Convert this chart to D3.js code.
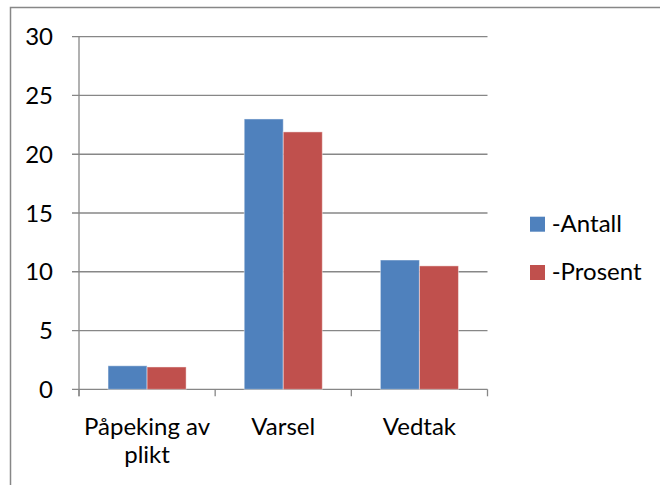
<!DOCTYPE html>
<html>
<head>
<meta charset="utf-8">
<script src="https://cdn.jsdelivr.net/npm/d3@7"></script>
<style>
  body { margin: 0; background: #fff; }
  text { font-family: Lato, "Open Sans", sans-serif; fill: #000; }
</style>
</head>
<body>
<svg id="chart" width="660" height="485"></svg>
<script>
// Data
const categories = ["Påpeking av plikt", "Varsel", "Vedtak"]
const seriesNames = ["-Antall", "-Prosent"]
const antall = [2, 23, 11]
const prosent = [1.9, 21.9, 10.5]
const yTicks = [0, 5, 10, 15, 20, 25, 30]
const colors = ["#4F81BD", "#C0504D"]

const svg = d3.select("#chart")
const grey = "#878787"
const fontSize = 24

// Outer chart frame (runs off the right and bottom edges)
svg.append("rect")
  .attr("x", 10.5).attr("y", 7.5)
  .attr("width", 700).attr("height", 600)
  .attr("fill", "none").attr("stroke", grey).attr("stroke-width", 1.5)

// Plot area
let plotLeft = 79, plotRight = 487.5, plotTop = 36.7, plotBottom = 389.3

let x0 = d3.scaleBand().domain(categories).range([plotLeft, plotRight]).padding(0)
let x1 = d3.scaleBand().domain(seriesNames).range([0, x0.bandwidth()])
  .paddingInner(0).paddingOuter(0.744)
let y = d3.scaleLinear().domain([0, 30]).range([plotBottom, plotTop])

let g = svg.append("g")

// Horizontal gridlines with outward ticks
g.selectAll(".grid")
  .data(yTicks)
  .enter().append("line")
    .attr("x1", plotLeft - 7).attr("x2", plotRight)
    .attr("y1", d => y(d)).attr("y2", d => y(d))
    .attr("stroke", grey).attr("stroke-width", 1.3)

// Y axis line
g.append("line")
  .attr("x1", plotLeft).attr("x2", plotLeft)
  .attr("y1", plotTop).attr("y2", plotBottom + 7)
  .attr("stroke", grey).attr("stroke-width", 1.3)

// Category boundary ticks
let boundaries = categories.map(c => x0(c)).concat([plotRight])
g.selectAll(".xtick")
  .data(boundaries)
  .enter().append("line")
    .attr("x1", d => d).attr("x2", d => d)
    .attr("y1", plotBottom).attr("y2", plotBottom + 7)
    .attr("stroke", grey).attr("stroke-width", 1.3)

// Y tick labels
g.selectAll(".ylabel")
  .data(yTicks)
  .enter().append("text")
    .attr("x", 53)
    .attr("y", d => y(d))
    .attr("dy", "0.36em")
    .attr("text-anchor", "end")
    .style("font-size", fontSize + "px")
    .text(d => d)

// Bars
let rows = categories.map((c, i) => ({ cat: c, values: [antall[i], prosent[i]] }))

let groups = g.selectAll(".cat")
  .data(rows)
  .enter().append("g")
    .attr("transform", d => "translate(" + x0(d.cat) + ",0)")

groups.selectAll("rect")
  .data(d => d.values.map((v, i) => ({ name: seriesNames[i], value: v, i: i })))
  .enter().append("rect")
    .attr("x", d => x1(d.name))
    .attr("width", x1.bandwidth())
    .attr("y", d => y(d.value))
    .attr("height", d => y(0) - y(d.value))
    .attr("fill", d => colors[d.i])
    .attr("stroke", "rgba(255,255,255,0.45)")
    .attr("stroke-width", 1)

// Category labels (wrapped like the original)
let catLines = {
  "Påpeking av plikt": ["Påpeking av", "plikt"],
  "Varsel": ["Varsel"],
  "Vedtak": ["Vedtak"]
}
let labels = g.selectAll(".xlabel")
  .data(categories)
  .enter().append("text")
    .attr("text-anchor", "middle")
    .style("font-size", fontSize + "px")
    .attr("transform", d => "translate(" + (x0(d) + x0.bandwidth() / 2) + ",435)")

labels.selectAll("tspan")
  .data(d => catLines[d])
  .enter().append("tspan")
    .attr("x", 0)
    .attr("y", (d, i) => i * 28)
    .text(d => d)

// Legend
let legend = svg.selectAll(".legend")
  .data(seriesNames)
  .enter().append("g")
    .attr("transform", (d, i) => "translate(530," + (216.7 + i * 48.3) + ")")

legend.append("rect")
  .attr("width", 15).attr("height", 15)
  .attr("fill", (d, i) => colors[i])

legend.append("text")
  .attr("x", 21.7)
  .attr("y", 15)
  .style("font-size", fontSize + "px")
  .text(d => d)
</script>
</body>
</html>
